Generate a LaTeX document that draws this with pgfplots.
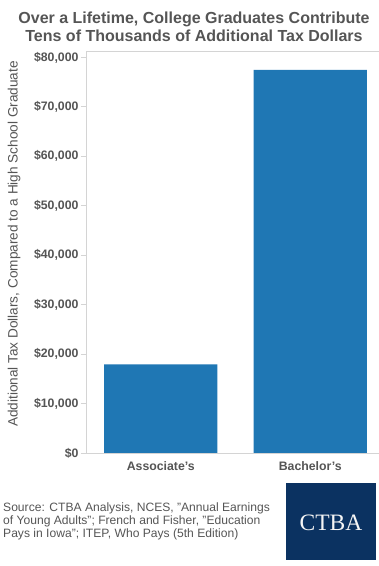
\documentclass[border=0pt]{standalone}
\usepackage{pgfplots}
\pgfplotsset{compat=1.18}
\usepackage{fontspec}
\setmainfont{Liberation Sans}[Ligatures=ResetAll]
\newfontfamily\seriffont{Liberation Serif}
\definecolor{txt}{HTML}{555555}
\definecolor{barblue}{HTML}{1F77B4}
\definecolor{axgray}{HTML}{D4D4D4}
\definecolor{navy}{HTML}{0B3261}
\begin{document}
\begin{tikzpicture}[x=1pt,y=1pt]
\path[use as bounding box] (0,0) rectangle (379,566);
\begin{axis}[
  at={(86pt,113pt)}, anchor=south west,
  scale only axis, width=293pt, height=402pt,
  xmin=-0.5, xmax=1.46, ymin=0, ymax=81300,
  axis line style={draw=none},
  xtick={0,1}, xticklabels={Associate's,Bachelor's},
  major x tick style={draw=none},
  extra x ticks={-0.5,0.5}, extra x tick labels={},
  extra x tick style={major tick length=5pt, tick style={draw=axgray, line width=0.8pt}},
  ytick={0,10000,20000,30000,40000,50000,60000,70000,80000},
  yticklabels={{\$0},{\$10,000},{\$20,000},{\$30,000},{\$40,000},{\$50,000},{\$60,000},{\$70,000},{\$80,000}},
  tick align=outside, major tick length=5pt,
  ytick style={draw=axgray, line width=0.8pt},
  tick pos=left,
  ticklabel style={font=\bfseries\fontsize{12.3}{14}\selectfont, text=txt},
  yticklabel style={xshift=1pt},
  scaled y ticks=false,
  clip=false,
  extra description/.code={
    \draw[axgray, line width=0.8pt] (rel axis cs:0,0)--(rel axis cs:0,1)--(rel axis cs:1,1);
    \draw[axgray, line width=0.8pt] (rel axis cs:0,0)--(rel axis cs:1,0);
  },
]
\addplot[ybar, bar width=113.3pt, fill=barblue, draw=none] coordinates {(0,17900) (1,77500)};
\end{axis}
% title
\node[text=txt, font=\bfseries\fontsize{16}{18.5}\selectfont, align=center] at (194,539) {Over a Lifetime, College Graduates Contribute\\Tens of Thousands of Additional Tax Dollars};
% y label
\node[text=txt, font=\fontsize{13.6}{15}\selectfont, rotate=90] at (14,322) {Additional Tax Dollars, Compared to a High School Graduate};
% source
\node[text=txt, font=\fontsize{12.1}{13}\selectfont, align=left, anchor=west, inner sep=0pt] at (3,45) {Source: CTBA Analysis, NCES, "Annual Earnings\\of Young Adults"; French and Fisher, "Education\\Pays in Iowa"; ITEP, Who Pays (5th Edition)};
% logo
\fill[navy] (286,6) rectangle (376,83);
\node[text=white!92!gray, font=\seriffont\fontsize{23.5}{26}\selectfont] at (331,43) {CTBA};
\end{tikzpicture}
\end{document}
